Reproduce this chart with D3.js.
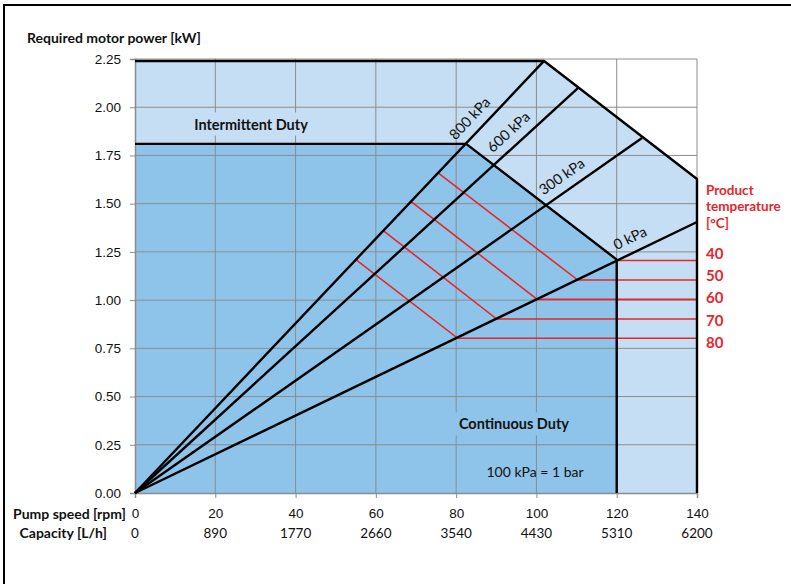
<!DOCTYPE html>
<html>
<head>
<meta charset="utf-8">
<script src="https://cdn.jsdelivr.net/npm/d3@7"></script>
<style>
	body { margin: 0; background: #fff; }
	svg { display: block; font-family: Lato, "Open Sans", sans-serif; }
</style>
</head>
<body>
<svg id="chart" width="791" height="584"></svg>
<script>
// ---- data ----
var speedTicks = [0, 20, 40, 60, 80, 100, 120, 140];
var capacityLabels = ["0", "890", "1770", "2660", "3540", "4430", "5310", "6200"];
var powerTicks = [0, 0.25, 0.5, 0.75, 1, 1.25, 1.5, 1.75, 2, 2.25];

// duty areas [speed, power]
var intermittentArea = [[0, 0], [0, 2.24], [101.9, 2.24], [140, 1.628], [140, 0]];
var continuousArea = [[0, 0], [0, 1.81], [82.5, 1.81], [120, 1.21], [120, 0]];

// pressure lines from the origin
var pressureNames = ["0 kPa", "300 kPa", "600 kPa", "800 kPa"];
var pressureEndSpeed = [140, 126.3, 110.4, 101.9];
var pressureEndPower = [1.405, 1.84, 2.10, 2.24];
var pressureLabelSpeed = [124.9, 108.4, 95.5, 86];

// product temperature lines
var tempLabels = ["40", "50", "60", "70", "80"];
var tempLevel = [1.205, 1.104, 1.004, 0.902, 0.802];
var tempKneeSpeed = [120, 110.3, 100.2, 90.1, 80.4];
var tempStartSpeed = [null, 75.5, 68.8, 62, 55.1];
var tempStartPower = [null, 1.66, 1.51, 1.358, 1.208];

// ---- scales ----
var svg = d3.select("#chart");
var x = d3.scaleLinear().domain([0, 140]).range([135, 697]);
var y = d3.scaleLinear().domain([0, 2.25]).range([493, 59]);
var line = d3.line().x(function(d) { return x(d[0]); }).y(function(d) { return y(d[1]); });

var lightBlue = "#c6def3";
var darkBlue = "#8fc4ea";
var red = "#e8252b";
var gridGray = "#8c8c8c";

// outer frame
svg.append("path").attr("d", "M4,584 V5 H791").attr("fill", "none")
	.attr("stroke", "#000").attr("stroke-width", 2);

// fills
svg.append("path").attr("d", line(intermittentArea) + "Z").attr("fill", lightBlue);
svg.append("path").attr("d", line(continuousArea) + "Z").attr("fill", darkBlue);

// grid
var grid = svg.append("g").attr("stroke", gridGray).attr("stroke-width", 1);
grid.selectAll("line.v").data(speedTicks.slice(1)).enter().append("line")
	.attr("x1", function(d) { return x(d); }).attr("x2", function(d) { return x(d); })
	.attr("y1", y(0)).attr("y2", y(2.25));
grid.selectAll("line.h").data(powerTicks.slice(1)).enter().append("line")
	.attr("x1", x(0)).attr("x2", x(140))
	.attr("y1", function(d) { return y(d); }).attr("y2", function(d) { return y(d); });

// axes
var yAxis = svg.append("g").attr("transform", "translate(" + x(0) + ",0)")
	.call(d3.axisLeft(y).tickValues(powerTicks).tickFormat(d3.format(".2f")).tickSize(5).tickPadding(9));
var xAxis = svg.append("g").attr("transform", "translate(0," + y(0) + ")")
	.call(d3.axisBottom(x).tickValues(speedTicks).tickSize(5).tickPadding(10));
[yAxis, xAxis].forEach(function(a) {
	a.select(".domain").attr("stroke", gridGray).attr("stroke-width", 1.5);
	a.selectAll(".tick line").attr("stroke", gridGray);
	a.selectAll("text").attr("font-family", null).attr("font-size", 13.5).attr("fill", "#111");
});

// capacity labels
svg.append("g").selectAll("text").data(capacityLabels).enter().append("text")
	.attr("x", function(d, i) { return x(speedTicks[i]); })
	.attr("y", 533).attr("text-anchor", "middle").attr("dominant-baseline", "central")
	.attr("font-size", 13.5).attr("fill", "#111").text(function(d) { return d; });

// duty labels with backgrounds
function boxedLabel(text, s, p, bg) {
	var g = svg.append("g");
	var t = g.append("text").attr("x", x(s)).attr("y", y(p))
		.attr("text-anchor", "middle").attr("dominant-baseline", "central")
		.attr("font-size", 14.5).attr("font-weight", "bold").attr("fill", "#111").text(text);
	var b = t.node().getBBox();
	g.insert("rect", "text").attr("x", b.x - 4).attr("y", b.y - 3)
		.attr("width", b.width + 8).attr("height", b.height + 6).attr("fill", bg);
}
boxedLabel("Intermittent Duty", 28.9, 1.913, lightBlue);
boxedLabel("Continuous Duty", 94.4, 0.358, darkBlue);

svg.append("text").attr("x", x(99.65)).attr("y", y(0.114))
	.attr("text-anchor", "middle").attr("dominant-baseline", "central")
	.attr("font-size", 14).attr("fill", "#111").text("100 kPa = 1 bar");

// red temperature lines
var redG = svg.append("g").attr("fill", "none").attr("stroke", red).attr("stroke-width", 1.6);
tempLevel.forEach(function(lv, i) {
	var pts = [];
	if (tempStartSpeed[i] !== null) pts.push([tempStartSpeed[i], tempStartPower[i]]);
	pts.push([tempKneeSpeed[i], lv]);
	pts.push([140, lv]);
	redG.append("path").attr("d", line(pts));
});

// black boundary and pressure lines
var blackG = svg.append("g").attr("fill", "none").attr("stroke", "#000")
	.attr("stroke-width", 2.4).attr("stroke-linejoin", "round");
blackG.append("path").attr("d", line(intermittentArea.slice(1)));
blackG.append("path").attr("d", line(continuousArea.slice(1)));
pressureNames.forEach(function(n, i) {
	blackG.append("path").attr("d", line([[0, 0], [pressureEndSpeed[i], pressureEndPower[i]]]));
});

// pressure labels, rotated along their lines
pressureNames.forEach(function(n, i) {
	var slope = pressureEndPower[i] / pressureEndSpeed[i];
	var s = pressureLabelSpeed[i];
	var ang = Math.atan2(y(slope * 100) - y(0), x(100) - x(0)) * 180 / Math.PI;
	svg.append("text")
		.attr("transform", "translate(" + x(s) + "," + y(slope * s) + ") rotate(" + ang + ")")
		.attr("y", -15).attr("text-anchor", "middle").attr("dominant-baseline", "central")
		.attr("font-size", 14.5).attr("fill", "#111").text(n);
});

// temperature legend
var tg = svg.append("g").attr("fill", red).attr("font-weight", "bold").attr("font-size", 13.5);
["Product", "temperature", "[°C]"].forEach(function(t, i) {
	tg.append("text").attr("x", 706).attr("y", 190 + i * 16.3)
		.attr("dominant-baseline", "central").text(t);
});
tg.selectAll("text.v").data(tempLabels).enter().append("text")
	.attr("x", 706).attr("y", function(d, i) { return 253 + i * 22.2; })
	.attr("dominant-baseline", "central").attr("font-size", 15).text(function(d) { return d; });

// axis titles
svg.append("text").attr("x", 27).attr("y", 37).attr("dominant-baseline", "central")
	.attr("font-size", 14).attr("font-weight", "bold").attr("fill", "#111")
	.text("Required motor power [kW]");
svg.append("text").attr("x", 126).attr("y", 513).attr("text-anchor", "end")
	.attr("dominant-baseline", "central").attr("font-size", 14).attr("font-weight", "bold")
	.attr("fill", "#111").text("Pump speed [rpm]");
svg.append("text").attr("x", 107).attr("y", 532).attr("text-anchor", "end")
	.attr("dominant-baseline", "central").attr("font-size", 14).attr("font-weight", "bold")
	.attr("fill", "#111").text("Capacity [L/h]");
</script>
</body>
</html>
